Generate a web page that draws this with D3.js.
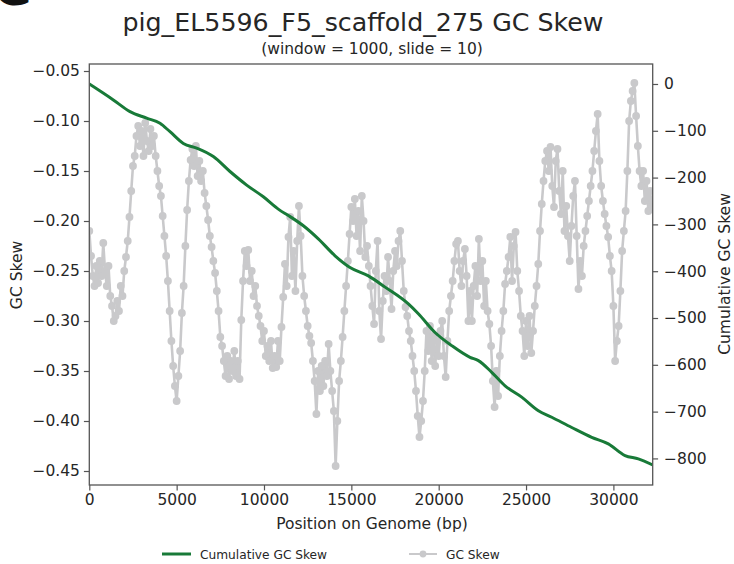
<!DOCTYPE html>
<html>
<head>
<meta charset="utf-8">
<script src="https://cdn.jsdelivr.net/npm/d3@7"></script>
<style>
  body { margin: 0; background: #fff; }
  svg { display: block; }
  text { font-family: "DejaVu Sans", sans-serif; }
</style>
</head>
<body>
<svg id="chart" width="734" height="564"></svg>
<script>
// ---------- data ----------
const titleText = "pig_EL5596_F5_scaffold_275 GC Skew";
const subtitleText = "(window = 1000, slide = 10)";
const xLabel = "Position on Genome (bp)";
const yLeftLabel = "GC Skew";
const yRightLabel = "Cumulative GC Skew";
const legendLabels = ["Cumulative GC Skew", "GC Skew"];

// GC skew every 100 bp
const skewStart = 0;
const skewStep = 100;
const skewValues = [
  -0.210, -0.235, -0.255, -0.265, -0.245, -0.262, -0.240, -0.255, -0.222, -0.250,
  -0.265, -0.245, -0.275, -0.285, -0.300, -0.295, -0.280, -0.290, -0.265, -0.275,
  -0.250, -0.236, -0.220, -0.196, -0.170, -0.145, -0.135, -0.115, -0.105, -0.125,
  -0.110, -0.135, -0.102, -0.120, -0.130, -0.108, -0.125, -0.115, -0.135, -0.150,
  -0.165, -0.175, -0.195, -0.215, -0.235, -0.260, -0.290, -0.320, -0.345, -0.365,
  -0.380, -0.355, -0.330, -0.292, -0.265, -0.225, -0.189, -0.160, -0.139, -0.128,
  -0.145, -0.125, -0.155, -0.140, -0.160, -0.150, -0.172, -0.185, -0.199, -0.215,
  -0.226, -0.240, -0.252, -0.270, -0.290, -0.316, -0.325, -0.340, -0.355, -0.335,
  -0.358, -0.340, -0.350, -0.330, -0.355, -0.340, -0.358, -0.299, -0.260, -0.230,
  -0.245, -0.229, -0.260, -0.250, -0.275, -0.265, -0.285, -0.295, -0.305, -0.320,
  -0.310, -0.335, -0.325, -0.340, -0.320, -0.347, -0.335, -0.346, -0.320, -0.340,
  -0.306, -0.276, -0.243, -0.265, -0.216, -0.196, -0.255, -0.230, -0.270, -0.220,
  -0.185, -0.215, -0.255, -0.275, -0.290, -0.305, -0.315, -0.322, -0.340, -0.360,
  -0.393, -0.350, -0.370, -0.345, -0.365, -0.340, -0.355, -0.323, -0.350, -0.370,
  -0.390, -0.445, -0.400, -0.360, -0.340, -0.316, -0.290, -0.265, -0.240, -0.213,
  -0.186, -0.200, -0.178, -0.215, -0.190, -0.230, -0.175, -0.200, -0.236, -0.225,
  -0.245, -0.265, -0.285, -0.303, -0.250, -0.220, -0.290, -0.318, -0.280, -0.255,
  -0.270, -0.236, -0.260, -0.288, -0.250, -0.230, -0.245, -0.220, -0.210, -0.240,
  -0.270, -0.286, -0.295, -0.310, -0.320, -0.335, -0.350, -0.370, -0.395, -0.416,
  -0.400, -0.380, -0.350, -0.310, -0.330, -0.305, -0.340, -0.315, -0.345, -0.320,
  -0.335, -0.310, -0.300, -0.335, -0.356, -0.320, -0.290, -0.275, -0.260, -0.240,
  -0.223, -0.220, -0.250, -0.265, -0.240, -0.228, -0.255, -0.300, -0.270, -0.300,
  -0.265, -0.245, -0.275, -0.218, -0.260, -0.240, -0.285, -0.260, -0.290, -0.303,
  -0.325, -0.360, -0.386, -0.350, -0.375, -0.335, -0.310, -0.290, -0.263, -0.250,
  -0.236, -0.216, -0.260, -0.225, -0.211, -0.250, -0.270, -0.295, -0.310, -0.335,
  -0.300, -0.325, -0.295, -0.332, -0.310, -0.285, -0.265, -0.243, -0.210, -0.183,
  -0.160, -0.140, -0.130, -0.150, -0.126, -0.165, -0.186, -0.140, -0.128, -0.170,
  -0.193, -0.150, -0.210, -0.185, -0.215, -0.240, -0.205, -0.175, -0.160, -0.215,
  -0.268, -0.240, -0.255, -0.225, -0.210, -0.195, -0.180, -0.165, -0.150, -0.130,
  -0.110, -0.093, -0.140, -0.165, -0.180, -0.193, -0.205, -0.216, -0.235, -0.250,
  -0.285, -0.340, -0.320, -0.305, -0.270, -0.230, -0.210, -0.190, -0.150, -0.100,
  -0.080, -0.070, -0.062, -0.095, -0.125, -0.150, -0.165, -0.150, -0.180, -0.160,
  -0.190, -0.170, -0.186
];

const cumPositions = [0, 1375, 2330, 3284, 4047, 4620, 5383, 6146, 7100, 8054, 9008, 9962,
  10878, 11395, 12254, 13110, 14066, 14925, 15975, 16930, 18264, 18836, 19790, 20745,
  21794, 22272, 23035, 23800, 24752, 25707, 26470, 27615, 28760, 29710, 30667, 31430, 32250];
const cumValues = [0, -34, -59, -73, -84, -102, -127, -137, -155, -187, -216, -241,
  -269, -281, -303, -331, -367, -392, -410, -434, -470, -491, -531, -559,
  -584, -591, -616, -645, -669, -698, -712, -734, -755, -769, -794, -801, -814];

const xTicks = [0, 5000, 10000, 15000, 20000, 25000, 30000];
const yLeftTicks = [-0.45, -0.40, -0.35, -0.30, -0.25, -0.20, -0.15, -0.10, -0.05];
const yRightTicks = [0, -100, -200, -300, -400, -500, -600, -700, -800];

// ---------- layout ----------
const plot = { left: 89.3, right: 652.7, top: 64, bottom: 485 };
const colors = { skew: "#c9c9cb", cum: "#187a38", spine: "#555555", text: "#262626" };
const tickFont = 15.5;

const svg = d3.select("#chart");
svg.append("rect").attr("width", 734).attr("height", 564).attr("fill", "#fff");

const x = d3.scaleLinear().domain([0, 32250]).range([plot.left, plot.right]);
const yL = d3.scaleLinear().domain([-0.464, -0.043]).range([plot.bottom, plot.top]);
const yR = d3.scaleLinear().domain([-856.8, 42.7]).range([plot.bottom, plot.top]);

const minus = s => s.replace(/-/g, "\u2212");

const skewData = skewValues.map((v, i) => ({ x: skewStart + i * skewStep, y: v }));
const cumData = cumPositions.map((p, i) => ({ x: p, y: cumValues[i] }));

svg.append("clipPath").attr("id", "clip").append("rect")
  .attr("x", plot.left).attr("y", plot.top)
  .attr("width", plot.right - plot.left).attr("height", plot.bottom - plot.top);

const g = svg.append("g").attr("clip-path", "url(#clip)");

// GC skew line + markers
g.append("path").datum(skewData)
  .attr("fill", "none").attr("stroke", colors.skew).attr("stroke-width", 2.6)
  .attr("stroke-linejoin", "round")
  .attr("d", d3.line().x(d => x(d.x)).y(d => yL(d.y)));
g.selectAll("circle.skew").data(skewData).enter().append("circle")
  .attr("class", "skew")
  .attr("cx", d => x(d.x)).attr("cy", d => yL(d.y)).attr("r", 3.9)
  .attr("fill", colors.skew);

// cumulative line
g.append("path").datum(cumData)
  .attr("fill", "none").attr("stroke", colors.cum).attr("stroke-width", 3)
  .attr("d", d3.line().curve(d3.curveMonotoneX).x(d => x(d.x)).y(d => yR(d.y)));

// axes
function styleAxis(sel) {
  sel.select(".domain").remove();
  sel.selectAll(".tick line").attr("stroke", colors.spine).attr("stroke-width", 1.2);
  sel.selectAll(".tick text").attr("fill", colors.text)
    .style("font-size", tickFont + "px").style("font-family", "DejaVu Sans");
}
svg.append("g").attr("transform", `translate(0,${plot.bottom})`)
  .call(d3.axisBottom(x).tickValues(xTicks).tickSize(5.4).tickPadding(4).tickFormat(d3.format("d")))
  .call(styleAxis);
svg.append("g").attr("transform", `translate(${plot.left},0)`)
  .call(d3.axisLeft(yL).tickValues(yLeftTicks).tickSize(5.4).tickPadding(4).tickFormat(d => minus(d3.format(".2f")(d))))
  .call(styleAxis);
svg.append("g").attr("transform", `translate(${plot.right},0)`)
  .call(d3.axisRight(yR).tickValues(yRightTicks).tickSize(5.4).tickPadding(6).tickFormat(d => minus(d3.format("d")(d))))
  .call(styleAxis);

// spines
svg.append("rect")
  .attr("x", plot.left).attr("y", plot.top)
  .attr("width", plot.right - plot.left).attr("height", plot.bottom - plot.top)
  .attr("fill", "none").attr("stroke", colors.spine).attr("stroke-width", 1.3);

// titles
svg.append("text").attr("x", 363).attr("y", 31).attr("text-anchor", "middle")
  .style("font-size", "25.3px").attr("fill", colors.text).text(titleText);
svg.append("text").attr("x", 372).attr("y", 54).attr("text-anchor", "middle")
  .style("font-size", "15.5px").attr("fill", colors.text).text(subtitleText);
svg.append("text").attr("x", 372).attr("y", 529).attr("text-anchor", "middle")
  .style("font-size", "15.5px").attr("fill", colors.text).text(xLabel);
svg.append("text").attr("transform", "translate(22,275) rotate(-90)").attr("text-anchor", "middle")
  .style("font-size", "15.5px").attr("fill", colors.text).text(yLeftLabel);
svg.append("text").attr("transform", "translate(730,274) rotate(-90)").attr("text-anchor", "middle")
  .style("font-size", "15.5px").attr("fill", colors.text).text(yRightLabel);

// panel letter (cut off at top)
svg.append("text").attr("x", -6).attr("y", 5).style("font-size", "46px").style("font-weight", "bold")
  .attr("fill", "#111").text("G");

// legend
const lg = svg.append("g");
lg.append("line").attr("x1", 162).attr("x2", 191).attr("y1", 554).attr("y2", 554)
  .attr("stroke", colors.cum).attr("stroke-width", 3);
lg.append("text").attr("x", 200).attr("y", 558.5).style("font-size", "12.2px")
  .attr("fill", colors.text).text(legendLabels[0]);
lg.append("line").attr("x1", 409).attr("x2", 437).attr("y1", 554).attr("y2", 554)
  .attr("stroke", colors.skew).attr("stroke-width", 2);
lg.append("circle").attr("cx", 423).attr("cy", 554).attr("r", 3.4).attr("fill", colors.skew);
lg.append("text").attr("x", 446).attr("y", 558.5).style("font-size", "12.2px")
  .attr("fill", colors.text).text(legendLabels[1]);
</script>
</body>
</html>
